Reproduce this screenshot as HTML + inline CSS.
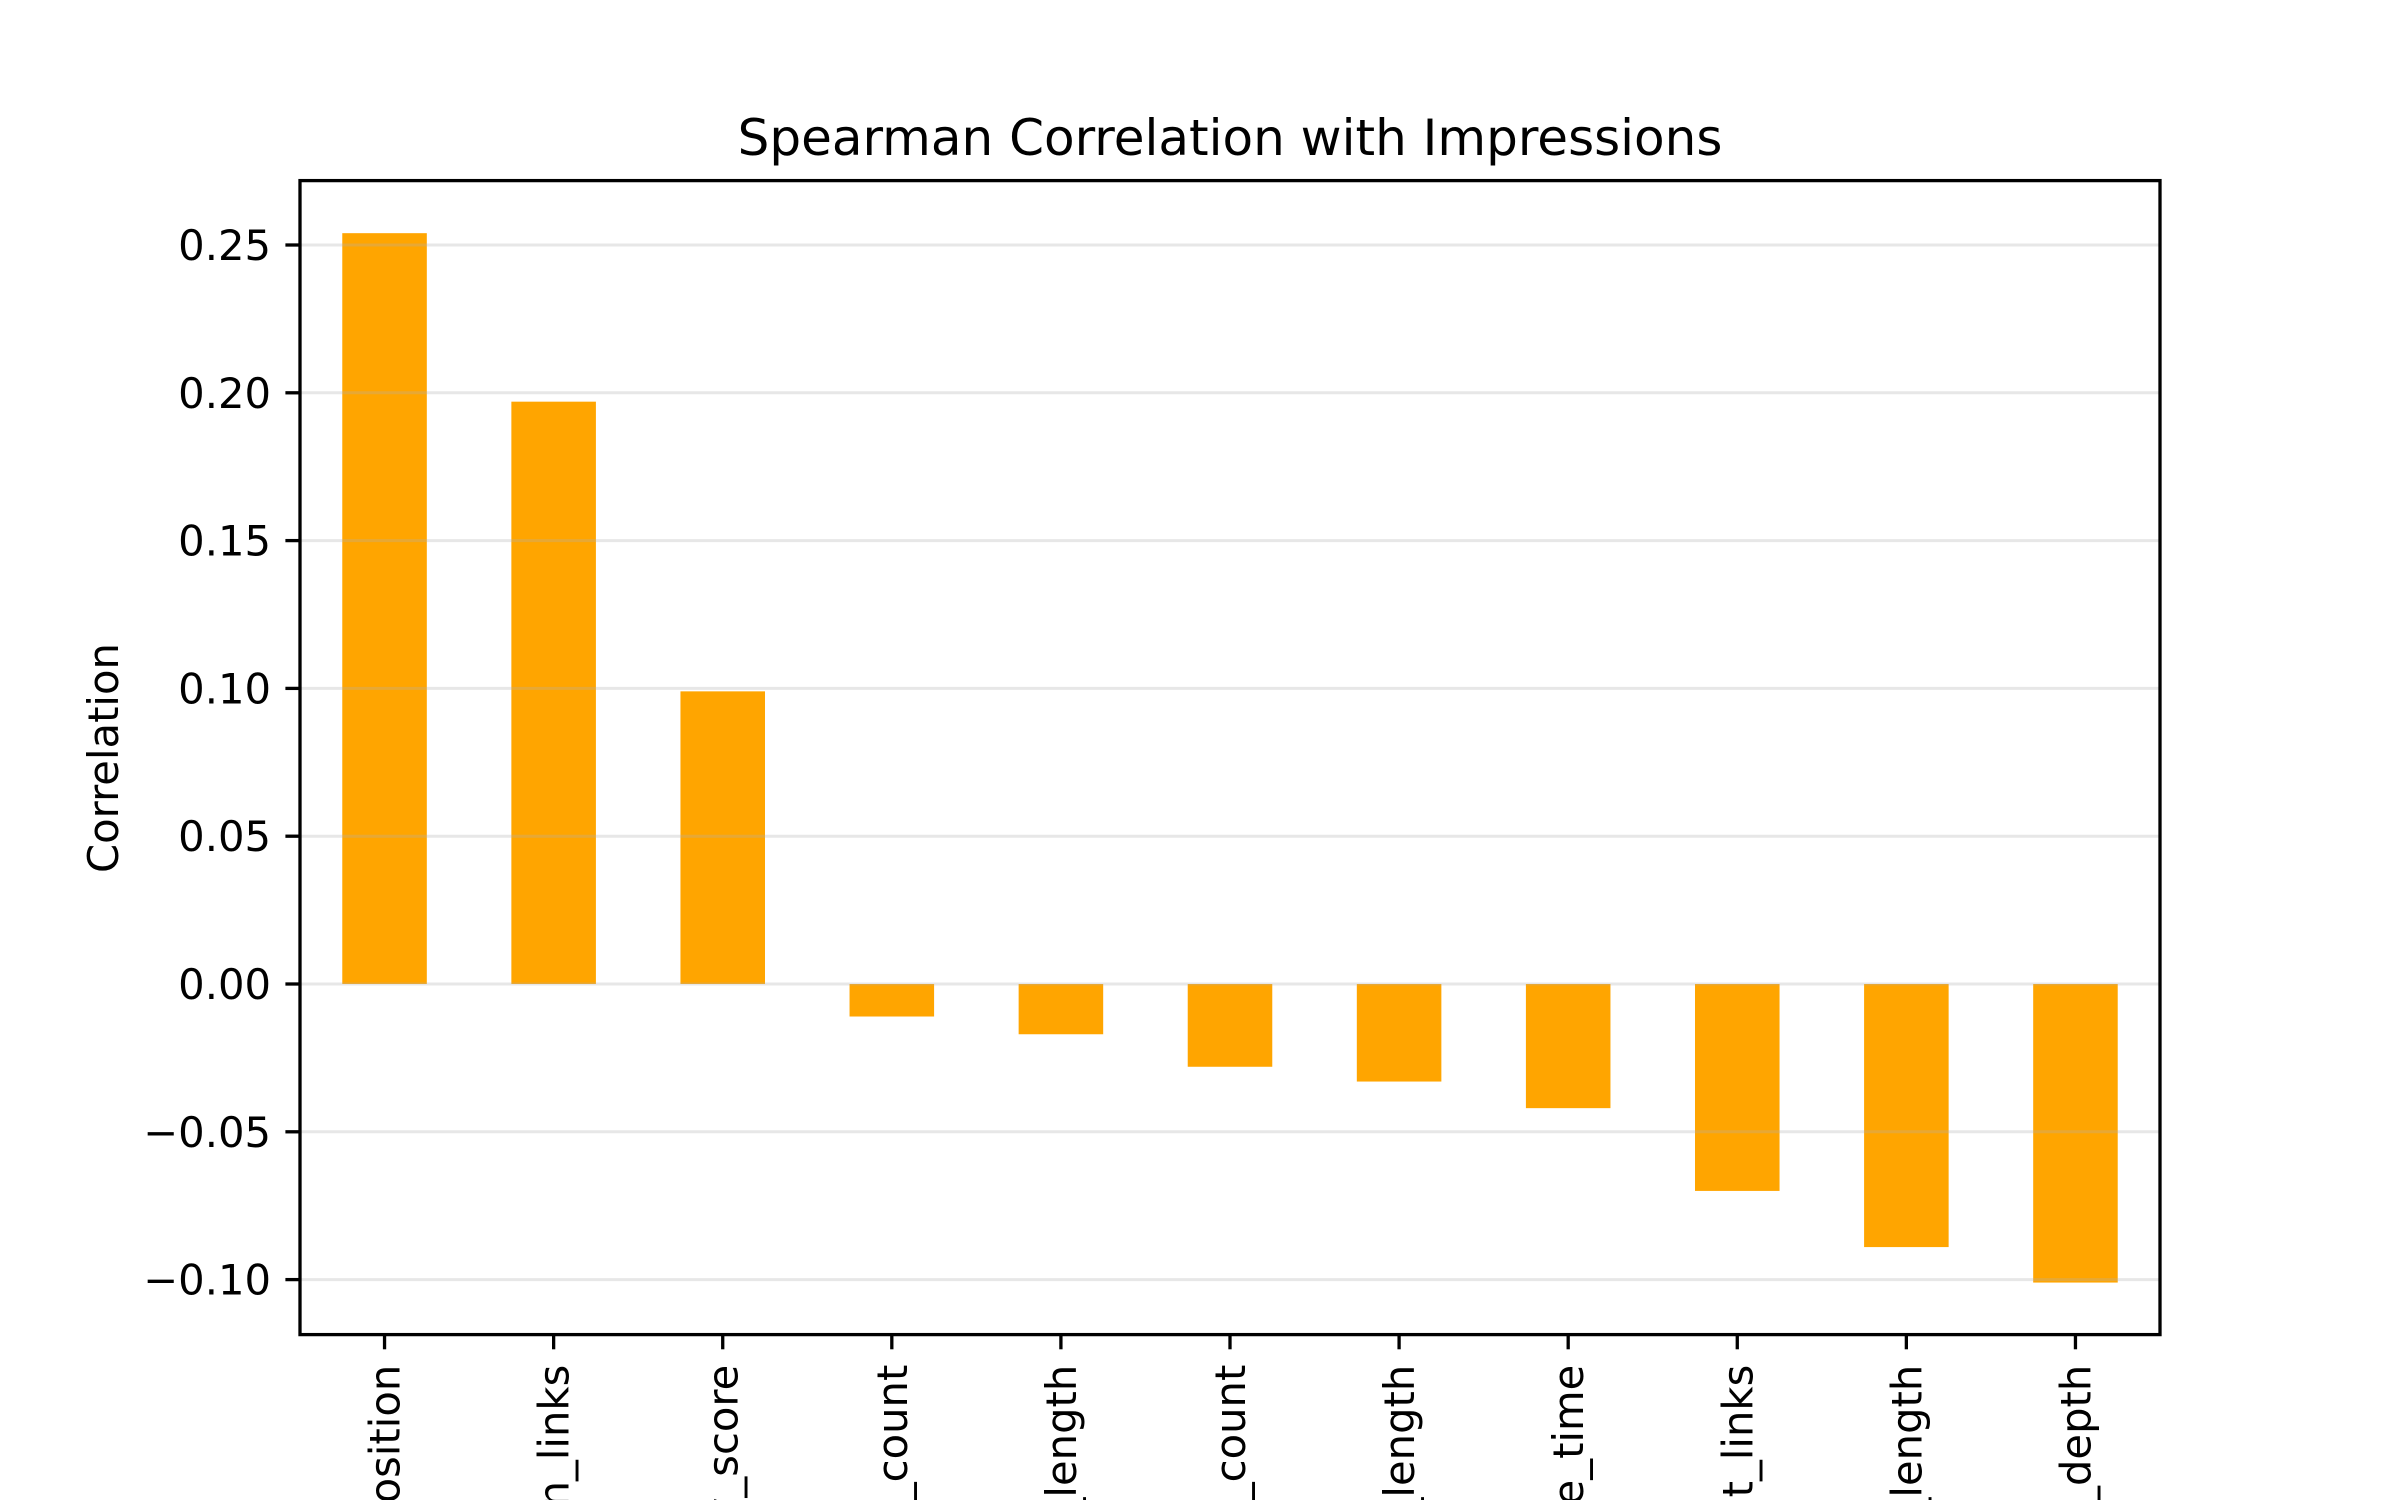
<!DOCTYPE html>
<html><head><meta charset="utf-8"><style>
html,body{margin:0;padding:0;background:#fff;width:2400px;height:1500px;overflow:hidden;}
svg{display:block;}
text{font-family:"DejaVu Sans","Liberation Sans",sans-serif;fill:#000;}
</style></head><body>
<svg id="chart" width="2400" height="1500" viewBox="0 0 2400 1500" xmlns="http://www.w3.org/2000/svg" style="overflow:hidden">
<rect width="2400" height="1500" fill="#fff"/>
<text x="1230" y="155" font-size="50" text-anchor="middle">Spearman Correlation with Impressions</text>
<text transform="translate(118,758) rotate(-90)" font-size="41.7" text-anchor="middle">Correlation</text>
<g id="bars"></g>
<g id="grid"></g>
<g id="yticks"></g>
<g id="xticks"></g>
<rect x="300" y="180.6" width="1860" height="1154" fill="none" stroke="#000" stroke-width="3.3"/>
</svg>
<script>
const categories = ["avg_position","domain_links","readability_score","image_count","title_length","heading_count","content_length","response_time","content_links","meta_desc_length","url_depth"];
const values = [0.254, 0.197, 0.099, -0.011, -0.017, -0.028, -0.033, -0.042, -0.070, -0.089, -0.101];
const yTicks = [-0.10, -0.05, 0.00, 0.05, 0.10, 0.15, 0.20, 0.25];
const yTickLabels = ["\u22120.10","\u22120.05","0.00","0.05","0.10","0.15","0.20","0.25"];

const NS = "http://www.w3.org/2000/svg";
const L = 300, R = 2160, T = 180.6, B = 1334.7;
const y0px = 984, perUnit = 147.8 / 0.05;
function yScale(v){ return y0px - v * perUnit; }
const step = (R - L) / categories.length;
function xCenter(i){ return L + step * (i + 0.5); }
function mk(tag, attrs){ const e = document.createElementNS(NS, tag); for (const k in attrs) e.setAttribute(k, attrs[k]); return e; }

const bars = document.getElementById('bars');
values.forEach((v, i) => {
  const y1 = yScale(v), y2 = yScale(0);
  const r = mk('rect', {x: xCenter(i) - step * 0.25, y: Math.min(y1, y2), width: step * 0.5, height: Math.abs(y2 - y1), fill: '#FFA500'});
  
  
  bars.appendChild(r);
});

const grid = document.getElementById('grid');
const yt = document.getElementById('yticks');
yTicks.forEach((t, i) => {
  const y = yScale(t);
  const g = mk('line', {x1: L, x2: R, y1: y, y2: y, stroke: '#b0b0b0', 'stroke-opacity': 0.3, 'stroke-width': 3});
  
  
  grid.appendChild(g);
  const tk = mk('line', {x1: L - 14.6, x2: L, y1: y, y2: y, stroke: '#000', 'stroke-width': 3.3});
  
  
  yt.appendChild(tk);
  const tx = mk('text', {x: L - 29, y: y + 15, 'font-size': 41.7, 'text-anchor': 'end'});
  tx.textContent = yTickLabels[i];
  
  
  yt.appendChild(tx);
});

const xt = document.getElementById('xticks');
categories.forEach((c, i) => {
  const x = xCenter(i);
  const tk = mk('line', {x1: x, x2: x, y1: B, y2: B + 14.6, stroke: '#000', 'stroke-width': 3.3});
  
  
  xt.appendChild(tk);
  const tx = mk('text', {transform: 'translate(' + (x + 15) + ',' + (B + 30) + ') rotate(-90)', 'font-size': 41.7, 'text-anchor': 'end'});
  tx.textContent = c;
  
  
  xt.appendChild(tx);
});
</script>
</body></html>
